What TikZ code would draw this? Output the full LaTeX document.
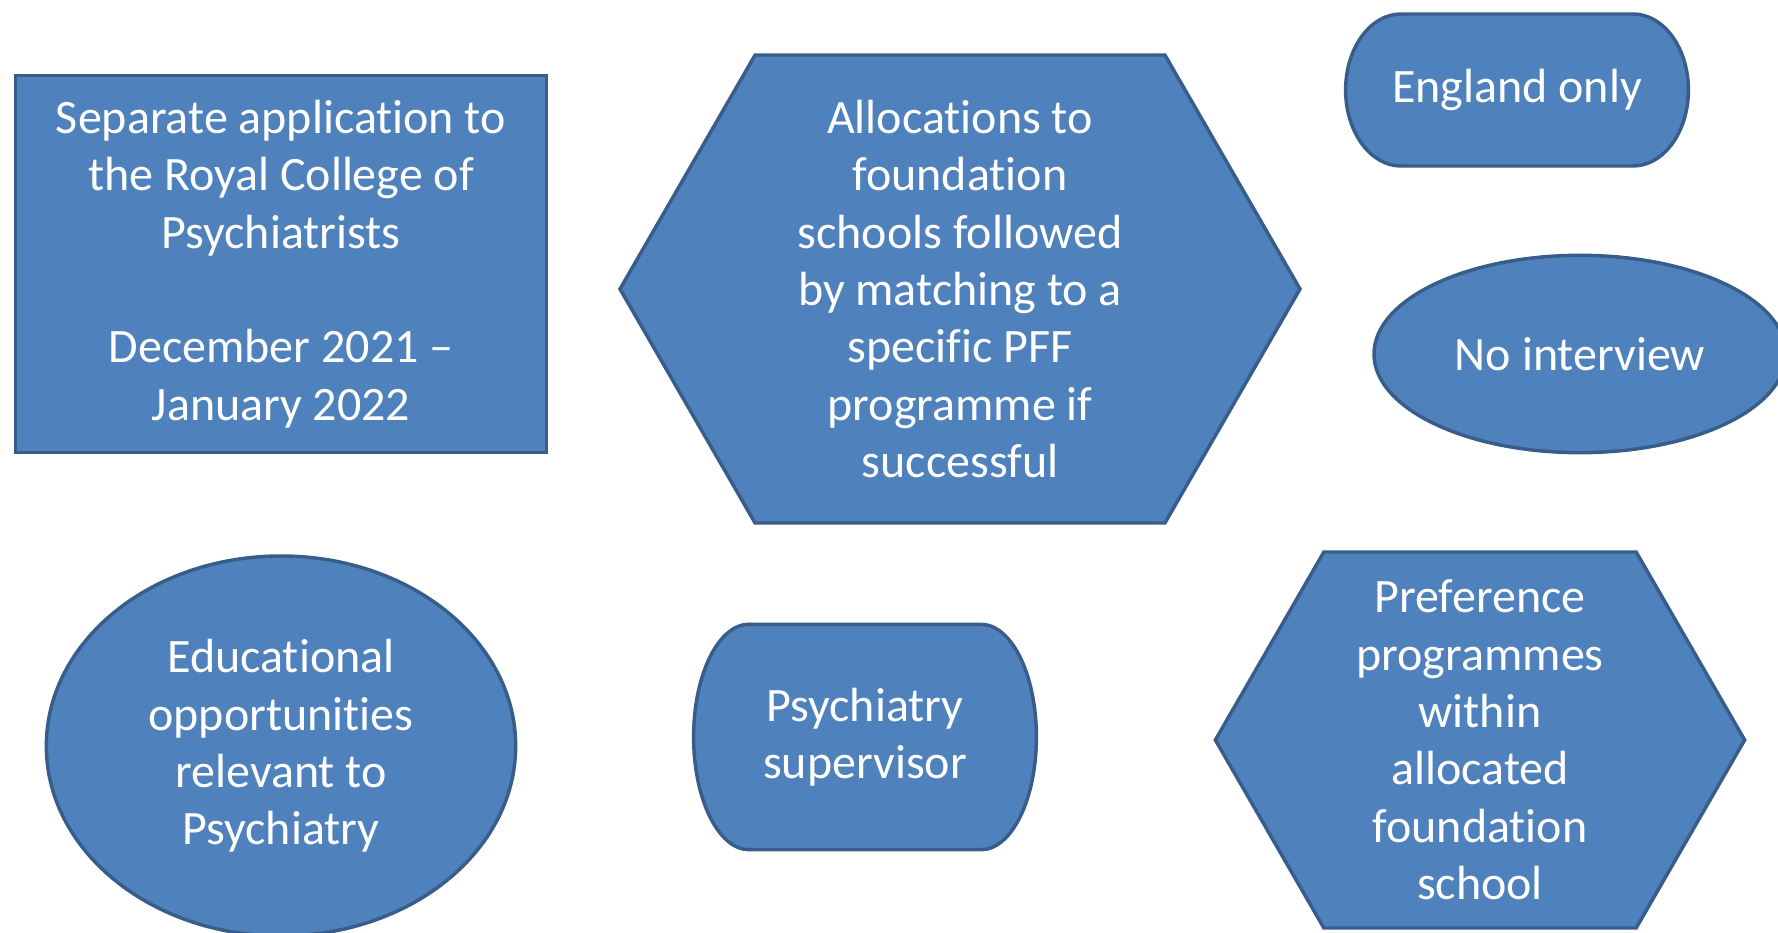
\documentclass[tikz,border=0pt]{standalone}
\usepackage{fontspec}
\setmainfont{Carlito}[Ligatures=NoCommon]
\usetikzlibrary{shapes.geometric,shapes.symbols,backgrounds}
\definecolor{fillblue}{HTML}{4F81BD}
\definecolor{lineblue}{HTML}{385D8A}
\tikzset{
    base/.style =   {fill=fillblue,
                    draw=lineblue,
                    text=white,
                    line width=2.6pt,
                    align=center,
                    inner sep=0pt,
                    font=\fontsize{36}{43}\selectfont},
    box/.style =    {base,
                    rectangle,
                    minimum width=398pt,
                    minimum height=283pt},
    hexa/.style =   {base,
                    signal,
                    signal to=west and east,
                    signal pointer angle=120},
    oval/.style =   {base,
                    ellipse},
    -,
    termtext/.style = {rectangle,
                    text=white,
                    align=center,
                    inner sep=0pt,
                    outer sep=0pt,
                    font=\fontsize{36}{43}\selectfont},
    term/.style =   {fill=fillblue,
                    draw=lineblue,
                    line width=2.6pt}}

\begin{document}
\begin{tikzpicture}[x=0.75pt,y=0.75pt]
                \useasboundingbox (0,0) rectangle (1778,932);
                \node[box]      (A) at (281,668)    {Separate application to\\the Royal College of\\Psychiatrists\\[43pt]December 2021 –\\January 2022};
                \node[hexa, minimum width=510pt, minimum height=351pt] (B) at (960,643)
                                {Allocations to\\foundation\\schools followed\\by matching to a\\specific PFF\\programme if\\successful};
                \node[termtext, minimum width=257pt, minimum height=114pt] (C) at (1517,842) {England only};
                \node[oval, minimum width=309pt, minimum height=148pt] (D) at (1580,578) {No interview};
                \node[oval, minimum width=352pt, minimum height=285pt] (E) at (281,186)
                                {Educational\\opportunities\\relevant to\\Psychiatry};
                \node[termtext, minimum width=257pt, minimum height=169pt] (F) at (865,195) {Psychiatry\\supervisor};
                \node[hexa, minimum width=397pt, minimum height=282pt] (G) at (1480,192)
                                {Preference\\programmes\\within\\allocated\\foundation\\school};
                % terminator outlines behind the text
                \begin{scope}[on background layer]
                \foreach \n/\h in {C/76,F/112.7}{
                    \draw[term] ([xshift=41.5pt]\n.north west) -- ([xshift=-41.5pt]\n.north east)
                        arc[start angle=90,end angle=-90,x radius=55.4,y radius=\h]
                        -- ([xshift=41.5pt]\n.south west)
                        arc[start angle=270,end angle=90,x radius=55.4,y radius=\h] -- cycle;
                }
                \end{scope}
        \end{tikzpicture}
\end{document}
